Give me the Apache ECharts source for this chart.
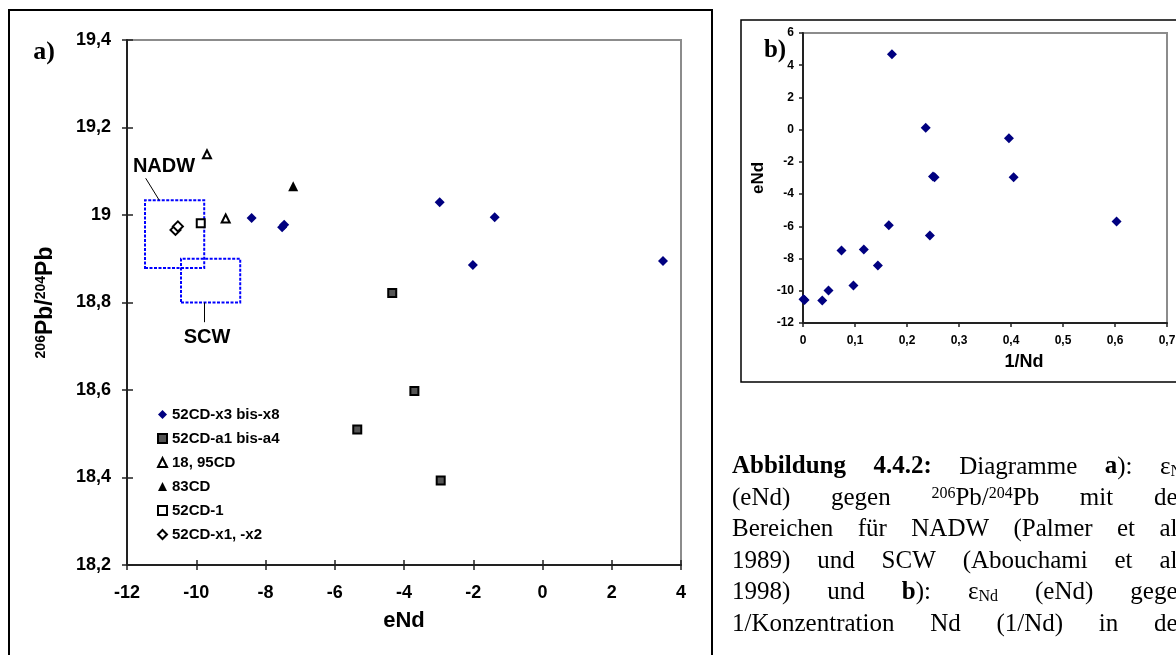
<!DOCTYPE html>
<html>
<head>
<meta charset="utf-8">
<script src="https://cdn.jsdelivr.net/npm/echarts@6/dist/echarts.min.js"></script>
<style>
  html, body { margin: 0; padding: 0; background: #fff; }
  #main { width: 1176px; height: 655px; }
</style>
</head>
<body>
<div id="main"></div>
<script>
// a) eNd gegen 206Pb/204Pb  -> [eNd, 206Pb/204Pb]
var x3x8 = [[-8.40, 18.993], [-7.52, 18.972], [-7.46, 18.978], [-2.97, 19.029], [-1.38, 18.995], [-2.01, 18.886], [3.48, 18.895]]
var a1a4 = [[-4.34, 18.822], [-3.70, 18.598], [-5.35, 18.510], [-2.94, 18.393]]
var cd18_95 = [[-9.69, 19.139], [-9.15, 18.992]]
var cd83 = [[-7.20, 19.066]]
var cd52_1 = [[-9.87, 18.981]]
var x1x2 = [[-10.60, 18.966], [-10.53, 18.974]]
var legendNames = ['52CD-x3 bis-x8', '52CD-a1 bis-a4', '18, 95CD', '83CD', '52CD-1', '52CD-x1, -x2']
// Bereiche [eNd von, Pb von, eNd bis, Pb bis]
var nadwBox = [-11.48, 18.879, -9.77, 19.034]
var scwBox = [-10.44, 18.80, -8.73, 18.90]
var xTicksA = [-12, -10, -8, -6, -4, -2, 0, 2, 4]
var yTicksA = [18.2, 18.4, 18.6, 18.8, 19.0, 19.2, 19.4]

// b) 1/Nd gegen eNd
var invNd = [0.003, 0.001, 0.037, 0.049, 0.074, 0.097, 0.117, 0.144, 0.165, 0.171, 0.236, 0.244, 0.250, 0.253, 0.396, 0.405, 0.603]
var eNdB = [-10.57, -10.52, -10.60, -9.98, -7.50, -9.68, -7.44, -8.43, -5.93, 4.68, 0.12, -6.57, -2.90, -2.95, -0.54, -2.95, -5.70]
var xTicksB = [0, 0.1, 0.2, 0.3, 0.4, 0.5, 0.6, 0.7]
var yTicksB = [-12, -10, -8, -6, -4, -2, 0, 2, 4, 6]

var sans = '"Liberation Sans", Arial, sans-serif'
var serif = '"Liberation Serif", "Times New Roman", serif'

function step(t) { return Math.round((t[1] - t[0]) * 1000) / 1000 }
function comma(v) { return String(Math.round(v * 10) / 10).replace('.', ',') }

var chart = echarts.init(document.getElementById('main'))

function valAxis(grid, ticks, o) {
  return Object.assign({
    type: 'value',
    gridIndex: grid,
    min: ticks[0],
    max: ticks[ticks.length - 1],
    interval: step(ticks),
    splitLine: { show: false },
    axisLine: { show: true, onZero: false, lineStyle: { color: '#222', width: 2 } },
    axisTick: { show: true, length: 5, lineStyle: { color: '#222', width: 1.5 } },
    axisLabel: { formatter: comma, color: '#000', fontWeight: 'bold', fontFamily: sans, fontSize: 18 }
  }, o)
}

var pts = invNd.map(function (v, i) { return [v, eNdB[i]] })

// Bildunterschrift, Blocksatz (rechter Rand liegt ausserhalb des Bildes)
var caption = [
  [[['b', 'Abbildung']], [['b', '4.4.2:']], [['n', 'Diagramme']], [['b', 'a'], ['n', '):']], [['n', 'ε'], ['sub', 'Nd']]],
  [[['n', '(eNd)']], [['n', 'gegen']], [['sup', '206'], ['n', 'Pb/'], ['sup', '204'], ['n', 'Pb']], [['n', 'mit']], [['n', 'den']]],
  [[['n', 'Bereichen']], [['n', 'für']], [['n', 'NADW']], [['n', '(Palmer']], [['n', 'et']], [['n', 'al.,']]],
  [[['n', '1989)']], [['n', 'und']], [['n', 'SCW']], [['n', '(Abouchami']], [['n', 'et']], [['n', 'al.,']]],
  [[['n', '1998)']], [['n', 'und']], [['b', 'b'], ['n', '):']], [['n', 'ε'], ['sub', 'Nd']], [['n', '(eNd)']], [['n', 'gegen']]],
  [[['n', '1/Konzentration']], [['n', 'Nd']], [['n', '(1/Nd)']], [['n', 'in']], [['n', 'den']]]
]
var capFonts = { n: '25px ' + serif, b: 'bold 25px ' + serif, sup: '16px ' + serif, sub: '16px ' + serif }
var capRich = {
  n: { font: capFonts.n, fill: '#000' },
  b: { font: capFonts.b, fill: '#000' },
  sup: { font: capFonts.sup, verticalAlign: 'top', fill: '#000' },
  sub: { font: capFonts.sub, verticalAlign: 'bottom', fill: '#000' }
}
var ctx = document.createElement('canvas').getContext('2d')
function wordWidth(w) {
  return w.reduce(function (s, seg) { ctx.font = capFonts[seg[0]]; return s + ctx.measureText(seg[1]).width }, 0)
}

var graphics = [
  // Rahmen
  { type: 'rect', shape: { x: 9, y: 10, width: 703, height: 700 }, style: { fill: null, stroke: '#000', lineWidth: 2 }, silent: true },
  { type: 'rect', shape: { x: 741, y: 20, width: 500, height: 362 }, style: { fill: null, stroke: '#000', lineWidth: 1.5 }, silent: true },
  { type: 'text', x: 44, y: 52, style: { text: 'a)', font: 'bold 26px ' + serif, fill: '#000', align: 'center', verticalAlign: 'middle' } },
  { type: 'text', x: 775, y: 51, style: { text: 'b)', font: 'bold 25px ' + serif, fill: '#000', align: 'center', verticalAlign: 'middle' } },
  { type: 'text', x: 164, y: 166, style: { text: 'NADW', font: 'bold 20px ' + sans, fill: '#000', align: 'center', verticalAlign: 'middle' } },
  { type: 'text', x: 207, y: 337, style: { text: 'SCW', font: 'bold 20px ' + sans, fill: '#000', align: 'center', verticalAlign: 'middle' } },
  { type: 'text', x: 1024, y: 362, style: { text: '1/Nd', font: 'bold 18px ' + sans, fill: '#000', align: 'center', verticalAlign: 'middle' } }
]
var capLeft = 732
var capRight = 1190
caption.forEach(function (line, i) {
  var widths = line.map(wordWidth)
  var total = widths.reduce(function (a, b) { return a + b }, 0)
  var gap = (capRight - capLeft - total) / (line.length - 1)
  var x = capLeft
  line.forEach(function (w, j) {
    graphics.push({
      type: 'text', x: x, y: 467 + i * 31.4,
      style: {
        text: w.map(function (seg) { return '{' + seg[0] + '|' + seg[1] + '}' }).join(''),
        rich: capRich, font: capFonts.n, fill: '#000', align: 'left', verticalAlign: 'middle'
      }
    })
    x += widths[j] + gap
  })
})

chart.setOption({
  animation: false,
  graphic: graphics,
  legend: {
    data: legendNames,
    orient: 'vertical',
    left: 152,
    top: 402,
    itemWidth: 9,
    itemHeight: 9,
    itemGap: 9,
    selectedMode: false,
    textStyle: { fontSize: 15, fontWeight: 'bold', fontFamily: sans, color: '#000' }
  },
  grid: [
    { left: 127, top: 40, width: 554, height: 525, show: true, borderColor: '#8c8c8c', borderWidth: 2, outerBoundsMode: 'none' },
    { left: 803, top: 33, width: 364, height: 290, show: true, borderColor: '#8c8c8c', borderWidth: 2, outerBoundsMode: 'none' }
  ],
  xAxis: [
    valAxis(0, xTicksA, {
      name: 'eNd', nameLocation: 'middle', nameGap: 45,
      nameTextStyle: { fontSize: 22, fontWeight: 'bold', fontFamily: sans, color: '#000' },
      axisLabel: { formatter: comma, color: '#000', fontWeight: 'bold', fontFamily: sans, fontSize: 18, margin: 19 }
    }),
    // zweite Achse nur fuer die nach innen zeigenden Teilstriche (Kreuzmarken)
    valAxis(0, xTicksA, { position: 'bottom', axisLine: { show: false, onZero: false }, axisTick: { inside: true, length: 5, lineStyle: { color: '#222', width: 1.5 } }, axisLabel: { show: false } }),
    valAxis(1, xTicksB, {
      axisTick: { length: 4, lineStyle: { color: '#222', width: 1.5 } },
      axisLabel: { formatter: comma, color: '#000', fontWeight: 'bold', fontFamily: sans, fontSize: 12, margin: 12 }
    })
  ],
  yAxis: [
    valAxis(0, yTicksA, {
      name: '{s|206}{b|Pb/}{s|204}{b|Pb}', nameLocation: 'middle', nameGap: 70, nameRotate: 90,
      nameTextStyle: {
        rich: {
          s: { fontSize: 14, fontWeight: 'bold', fontFamily: sans, color: '#000', verticalAlign: 'top' },
          b: { fontSize: 23, fontWeight: 'bold', fontFamily: sans, color: '#000', verticalAlign: 'bottom' }
        }
      },
      axisLabel: { formatter: comma, color: '#000', fontWeight: 'bold', fontFamily: sans, fontSize: 18, margin: 16 }
    }),
    valAxis(0, yTicksA, { position: 'left', axisLine: { show: false, onZero: false }, axisTick: { inside: true, length: 6, lineStyle: { color: '#222', width: 1.5 } }, axisLabel: { show: false } }),
    valAxis(1, yTicksB, {
      name: 'eNd', nameLocation: 'middle', nameGap: 36, nameRotate: 90,
      nameTextStyle: { fontSize: 17, fontWeight: 'bold', fontFamily: sans, color: '#000' },
      axisTick: { length: 4, lineStyle: { color: '#222', width: 1.5 } },
      axisLabel: { formatter: comma, color: '#000', fontWeight: 'bold', fontFamily: sans, fontSize: 12, margin: 9 }
    })
  ],
  series: [
    {
      name: legendNames[0], type: 'scatter', xAxisIndex: 0, yAxisIndex: 0, data: x3x8,
      symbol: 'diamond', symbolSize: 10, itemStyle: { color: '#000080', opacity: 1 }
    },
    {
      name: legendNames[1], type: 'scatter', xAxisIndex: 0, yAxisIndex: 0, data: a1a4,
      symbol: 'rect', symbolSize: 8, itemStyle: { color: '#555', borderColor: '#000', borderWidth: 2, opacity: 1 }
    },
    {
      name: legendNames[2], type: 'scatter', xAxisIndex: 0, yAxisIndex: 0, data: cd18_95,
      symbol: 'triangle', symbolSize: 8, itemStyle: { color: '#fff', borderColor: '#000', borderWidth: 2, opacity: 1 }
    },
    {
      name: legendNames[3], type: 'scatter', xAxisIndex: 0, yAxisIndex: 0, data: cd83,
      symbol: 'triangle', symbolSize: 10, itemStyle: { color: '#000', opacity: 1 }
    },
    {
      name: legendNames[4], type: 'scatter', xAxisIndex: 0, yAxisIndex: 0, data: cd52_1,
      symbol: 'rect', symbolSize: 8, itemStyle: { color: '#fff', borderColor: '#000', borderWidth: 2, opacity: 1 }
    },
    {
      name: legendNames[5], type: 'scatter', xAxisIndex: 0, yAxisIndex: 0, data: x1x2,
      symbol: 'diamond', symbolSize: 10, itemStyle: { color: '#fff', borderColor: '#000', borderWidth: 2, opacity: 1 },
      markArea: {
        silent: true,
        itemStyle: { color: 'rgba(0,0,0,0)', borderColor: '#0000ff', borderWidth: 2, borderType: [3, 1.5] },
        data: [
          [{ coord: [nadwBox[0], nadwBox[1]] }, { coord: [nadwBox[2], nadwBox[3]] }],
          [{ coord: [scwBox[0], scwBox[1]] }, { coord: [scwBox[2], scwBox[3]] }]
        ]
      },
      markLine: {
        silent: true, symbol: 'none', label: { show: false },
        lineStyle: { color: '#000', width: 1, type: 'solid' },
        data: [
          [{ coord: [-11.46, 19.084] }, { coord: [-11.07, nadwBox[3]] }],
          [{ coord: [-9.78, scwBox[1]] }, { coord: [-9.78, 18.755] }]
        ]
      }
    },
    {
      name: 'b', type: 'scatter', xAxisIndex: 2, yAxisIndex: 2, data: pts,
      symbol: 'diamond', symbolSize: 10, itemStyle: { color: '#000080', opacity: 1 }
    }
  ]
})
</script>
</body>
</html>
